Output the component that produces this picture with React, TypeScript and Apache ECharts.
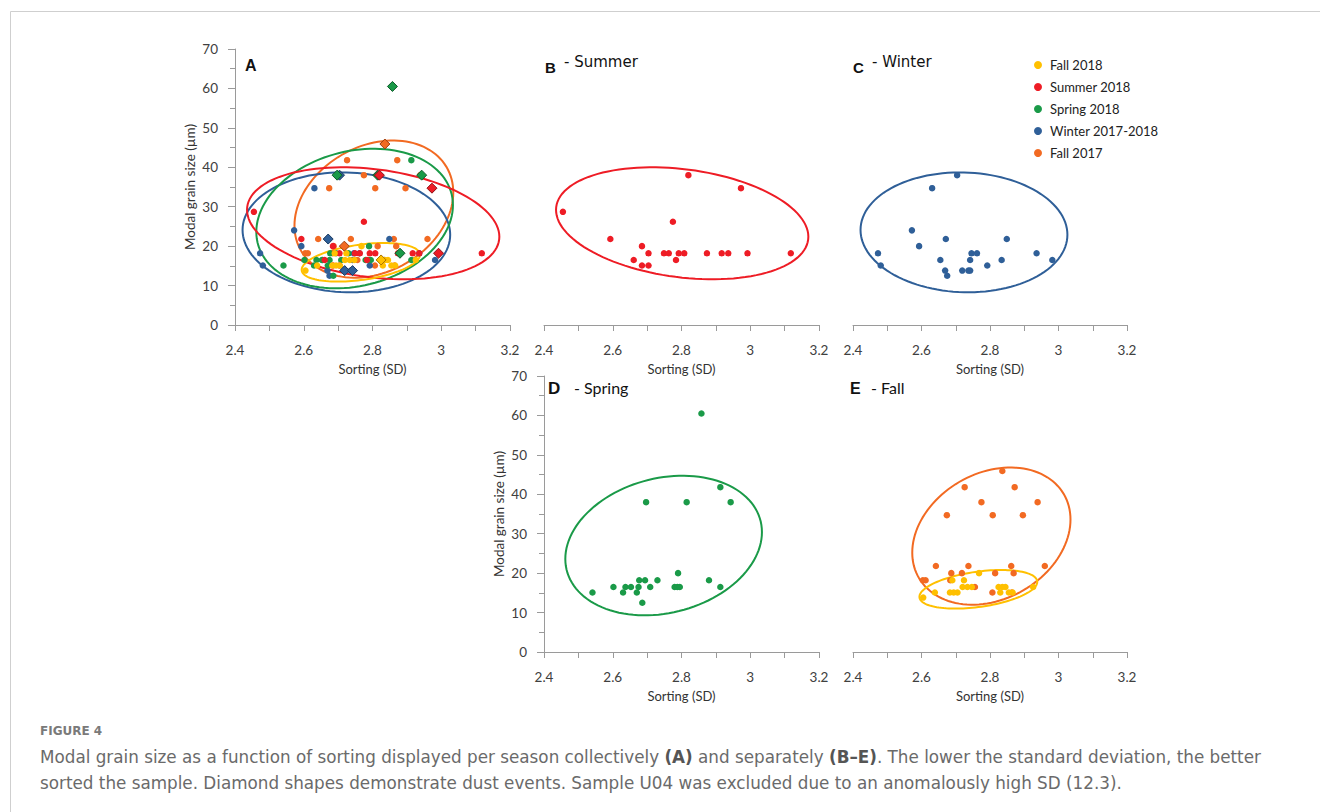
import React, { useEffect, useRef } from "react";
import * as echarts from "echarts";

// ---------- data ----------
const seasons = ["Fall 2018", "Summer 2018", "Spring 2018", "Winter 2017-2018", "Fall 2017"];
const seasonColors = ["#FFC000", "#EE1C25", "#1A9A48", "#2F5F98", "#F26A22"];
const dustBorders = ["#A87400", "#8E1015", "#0E5A2A", "#1B3A60", "#9E3E0C"];

// Fall 2018 (yellow)
const fall18X = [2.768, 2.690, 2.724, 2.720, 2.734, 2.747, 2.825, 2.836, 2.845, 2.926, 2.639, 2.683, 2.694, 2.705, 2.830, 2.855, 2.866, 2.605];
const fall18Y = [20.0, 18.2, 18.2, 16.5, 16.5, 16.5, 16.5, 16.5, 16.5, 16.5, 15.1, 15.1, 15.1, 15.1, 15.1, 15.1, 15.1, 13.8];
const fall18Dust = [0, 0, 0, 0, 0, 0, 1, 0, 0, 0, 0, 0, 0, 0, 0, 0, 0, 0];

// Summer 2018 (red)
const summerX = [2.455, 2.593, 2.685, 2.704, 2.661, 2.685, 2.704, 2.749, 2.763, 2.775, 2.784, 2.792, 2.808, 2.820, 2.874, 2.917, 2.936, 2.973, 2.992, 3.118];
const summerY = [28.7, 21.8, 20.0, 18.2, 16.5, 15.1, 15.1, 18.2, 18.2, 26.2, 16.5, 18.2, 18.2, 38.0, 18.2, 18.2, 18.2, 34.7, 18.2, 18.2];
const summerDust = [0, 0, 0, 0, 0, 0, 0, 0, 0, 0, 0, 0, 0, 1, 0, 0, 0, 1, 1, 0];

// Spring 2018 (green)
const springX = [2.541, 2.602, 2.630, 2.637, 2.653, 2.670, 2.675, 2.677, 2.686, 2.694, 2.697, 2.709, 2.730, 2.780, 2.788, 2.790, 2.795, 2.815, 2.858, 2.880, 2.913, 2.913, 2.943];
const springY = [15.1, 16.5, 15.1, 16.5, 16.5, 15.1, 16.5, 18.2, 12.5, 18.2, 38.0, 16.5, 18.2, 16.5, 16.5, 20.0, 16.5, 38.0, 60.5, 18.2, 41.8, 16.5, 38.0];
const springDust = [0, 0, 0, 0, 0, 0, 0, 0, 0, 0, 1, 0, 0, 0, 0, 0, 0, 1, 1, 1, 0, 0, 1];

// Winter 2017-2018 (blue)
const winterX = [2.473, 2.481, 2.572, 2.593, 2.631, 2.655, 2.671, 2.669, 2.675, 2.704, 2.719, 2.737, 2.742, 2.742, 2.746, 2.762, 2.792, 2.834, 2.849, 2.936, 2.982];
const winterY = [18.2, 15.1, 24.0, 20.0, 34.7, 16.5, 21.8, 13.8, 12.5, 38.0, 13.8, 13.8, 13.8, 16.5, 18.2, 18.2, 15.1, 16.5, 21.8, 18.2, 16.5];
const winterDust = [0, 0, 0, 0, 0, 0, 1, 0, 0, 1, 1, 0, 1, 0, 0, 0, 0, 0, 0, 0, 0];

// Fall 2017 (orange)
const fall17X = [2.836, 2.726, 2.872, 2.775, 2.939, 2.674, 2.808, 2.896, 2.642, 2.737, 2.862, 2.960, 2.687, 2.718, 2.815, 2.869, 2.604, 2.612, 2.684, 2.756, 2.807, 2.864];
const fall17Y = [45.9, 41.8, 41.8, 38.0, 38.0, 34.7, 34.7, 34.7, 21.8, 21.8, 21.8, 21.8, 20.0, 20.0, 20.0, 20.0, 18.2, 18.2, 18.2, 16.5, 15.1, 15.1];
const fall17Dust = [1, 0, 0, 0, 0, 0, 0, 0, 0, 0, 0, 0, 0, 1, 0, 0, 0, 0, 0, 0, 0, 0];

// Ellipses: [centre x, centre y, half width, half height, y at rightmost point]
const ellipseFall18 = [2.766, 15.9, 0.172, 4.9, 17.8];
const ellipseSummer = [2.802, 25.8, 0.367, 14.2, 22.4];
const ellipseSpring = [2.748, 27.0, 0.286, 17.7, 30.4];
const ellipseWinter = [2.724, 23.5, 0.302, 15.2, 22.9];
const ellipseFall17 = [2.804, 29.4, 0.231, 17.4, 33.6];

const xMin = 2.4, xMax = 3.2, xStep = 0.2;
const yMin = 0, yMax = 70, yStep = 10;

const xTitle = "Sorting (SD)";
const yTitle = "Modal grain size (µm)";

const captionHead = "FIGURE 4";
const captionLine1 = "{n|Modal grain size as a function of sorting displayed per season collectively }{b|(A)}{n| and separately }{b|(B–E)}{n|. The lower the standard deviation, the better}";
const captionLine2 = "sorted the sample. Diamond shapes demonstrate dust events. Sample U04 was excluded due to an anomalously high SD (12.3).";

// ---------- helpers ----------
const FONT = "Lato, 'Open Sans', sans-serif";
const CAP_FONT = "'DejaVu Sans', sans-serif";

const seasonData = [
  { x: fall18X, y: fall18Y, d: fall18Dust, e: ellipseFall18 },
  { x: summerX, y: summerY, d: summerDust, e: ellipseSummer },
  { x: springX, y: springY, d: springDust, e: ellipseSpring },
  { x: winterX, y: winterY, d: winterDust, e: ellipseWinter },
  { x: fall17X, y: fall17Y, d: fall17Dust, e: ellipseFall17 },
];

function points(si: number, filter: (dust: number) => boolean) {
  const s = seasonData[si];
  const out: number[][] = [];
  s.x.forEach((x, i) => {
    if (filter(s.d[i])) out.push([x, s.y[i]]);
  });
  return out;
}

function circles(si: number, g: number, all: boolean) {
  return {
    type: "scatter",
    name: seasons[si],
    xAxisIndex: g,
    yAxisIndex: g,
    symbol: "circle",
    symbolSize: 6.5,
    itemStyle: { color: seasonColors[si], opacity: 1 },
    data: points(si, (d) => all || d === 0),
    z: 3,
  };
}

function diamonds(si: number, g: number) {
  return {
    type: "scatter",
    name: seasons[si],
    xAxisIndex: g,
    yAxisIndex: g,
    symbol: "diamond",
    symbolSize: 10,
    itemStyle: { color: seasonColors[si], borderColor: dustBorders[si], borderWidth: 1, opacity: 1 },
    data: points(si, (d) => d === 1),
    z: 4,
  };
}

function ellipse(si: number, g: number) {
  const color = seasonColors[si];
  return {
    type: "custom",
    name: "ellipse-" + seasons[si],
    xAxisIndex: g,
    yAxisIndex: g,
    clip: false,
    z: 2,
    data: [seasonData[si].e],
    encode: { x: 0, y: 1 },
    renderItem: (params: any, api: any) => {
      const cx = api.value(0), cy = api.value(1), hw = api.value(2), hh = api.value(3), yr = api.value(4);
      const c = Math.max(-1, Math.min(1, (yr - cy) / hh));
      const phi = Math.acos(c);
      const pts: number[][] = [];
      const N = 120;
      for (let i = 0; i < N; i++) {
        const t = (i / N) * Math.PI * 2;
        pts.push(api.coord([cx + hw * Math.cos(t), cy + hh * Math.cos(t - phi)]));
      }
      return {
        type: "polygon",
        shape: { points: pts },
        style: { fill: "none", stroke: color, lineWidth: 2 },
      };
    },
  };
}

const grids = [
  { left: 235, top: 49, width: 275, height: 276 },
  { left: 544, top: 49, width: 275, height: 276 },
  { left: 853, top: 49, width: 274, height: 276 },
  { left: 544, top: 376, width: 275, height: 276 },
  { left: 853, top: 376, width: 274, height: 276 },
];
const showY = [true, false, false, true, false];

const axisGray = "#9a9a9a";

function makeX(g: number) {
  return {
    type: "value",
    gridIndex: g,
    min: xMin,
    max: xMax,
    interval: xStep,
    name: xTitle,
    nameLocation: "middle",
    nameGap: 37,
    nameTextStyle: { fontFamily: FONT, fontSize: 13, color: "#333" },
    axisLine: { show: true, lineStyle: { color: axisGray, width: 1 } },
    axisTick: { show: true, length: 6, lineStyle: { color: axisGray } },
    minorTick: { show: true, splitNumber: 2, length: 6, lineStyle: { color: axisGray } },
    splitLine: { show: false },
    axisLabel: {
      margin: 18,
      fontFamily: FONT,
      fontSize: 13.5,
      color: "#404040",
      formatter: (v: number) => String(parseFloat(v.toFixed(1))),
    },
  };
}

function makeY(g: number) {
  return {
    type: "value",
    gridIndex: g,
    min: yMin,
    max: yMax,
    interval: yStep,
    show: showY[g],
    name: yTitle,
    nameLocation: "middle",
    nameGap: 38,
    nameTextStyle: { fontFamily: FONT, fontSize: 13.5, color: "#333" },
    axisLine: { show: true, lineStyle: { color: axisGray, width: 1 } },
    axisTick: { show: true, length: 7, lineStyle: { color: axisGray } },
    minorTick: { show: true, splitNumber: 2, length: 5, lineStyle: { color: axisGray } },
    splitLine: { show: false },
    axisLabel: { margin: 17, fontFamily: FONT, fontSize: 13.5, color: "#404040" },
  };
}

function panelLabel(letter: string, rest: string, x: number, yLetter: number, yRest: number, restX: number, size: number, restFont: string) {
  const items: any[] = [
    {
      type: "text",
      x,
      y: yLetter,
      style: { text: letter, font: `bold ${size}px 'Liberation Sans', Arial, sans-serif`, fill: "#111", verticalAlign: "middle" },
    },
  ];
  if (rest) {
    items.push({
      type: "text",
      x: restX,
      y: yRest,
      style: { text: rest, font: restFont, fill: "#111", verticalAlign: "middle" },
    });
  }
  return items;
}

export default function App() {
  const ref = useRef<HTMLDivElement>(null);
  useEffect(() => {
    if (!ref.current) return;
    const chart = echarts.init(ref.current, undefined, { renderer: "svg" });

    const order = [4, 3, 2, 1, 0]; // draw Fall 2017 first, Fall 2018 on top
    const series: any[] = [];
    // Panel A
    order.forEach((si) => series.push(ellipse(si, 0)));
    order.forEach((si) => series.push(circles(si, 0, false)));
    order.forEach((si) => series.push(diamonds(si, 0)));
    // Panel B - Summer
    series.push(ellipse(1, 1), circles(1, 1, true));
    // Panel C - Winter
    series.push(ellipse(3, 2), circles(3, 2, true));
    // Panel D - Spring
    series.push(ellipse(2, 3), circles(2, 3, true));
    // Panel E - Fall
    series.push(ellipse(4, 4), ellipse(0, 4), circles(4, 4, true), circles(0, 4, true));

    const subWide = "15px 'DejaVu Sans', sans-serif";
    const subNarrow = `16px ${FONT}`;
    const capSize = 16.8;

    const graphic: any[] = [
      { type: "line", shape: { x1: 10.5, y1: 11.5, x2: 1320, y2: 11.5 }, style: { stroke: "#cfcfcf", lineWidth: 1 } },
      { type: "line", shape: { x1: 10.5, y1: 11.5, x2: 10.5, y2: 812 }, style: { stroke: "#cfcfcf", lineWidth: 1 } },
      ...panelLabel("A", "", 245, 65, 65, 0, 16, subNarrow),
      ...panelLabel("B", "- Summer", 545, 67, 61.5, 564, 15, subWide),
      ...panelLabel("C", "- Winter", 853, 67, 61.5, 872, 15, subWide),
      ...panelLabel("D", "- Spring", 548, 388, 387, 574, 17, subNarrow),
      ...panelLabel("E", "- Fall", 850, 388, 387, 871, 16, subNarrow),
      {
        type: "text",
        x: 40,
        y: 731,
        style: { text: captionHead, font: `bold 12px ${CAP_FONT}`, fill: "#7a7a7a", verticalAlign: "middle" },
      },
      {
        type: "text",
        x: 40,
        y: 757,
        style: {
          text: captionLine1,
          verticalAlign: "middle",
          rich: {
            n: { fontFamily: CAP_FONT, fontSize: capSize, fill: "#6a6a6a", fontWeight: "normal" },
            b: { fontFamily: CAP_FONT, fontSize: capSize, fill: "#555", fontWeight: "bold" },
          },
        },
      },
      {
        type: "text",
        x: 40,
        y: 783,
        style: { text: captionLine2, font: `${capSize}px ${CAP_FONT}`, fill: "#6a6a6a", verticalAlign: "middle" },
      },
    ];

    chart.setOption({
      animation: false,
      backgroundColor: "#ffffff",
      grid: grids,
      xAxis: grids.map((_, g) => makeX(g)),
      yAxis: grids.map((_, g) => makeY(g)),
      legend: {
        data: seasons.map((name) => ({ name, icon: "circle" })),
        orient: "vertical",
        left: 1029,
        top: 53,
        itemWidth: 8,
        itemHeight: 8,
        itemGap: 8,
        selectedMode: false,
        textStyle: { fontFamily: FONT, fontSize: 13, color: "#222", lineHeight: 14, padding: [0, 0, 0, 3] },
      },
      series,
      graphic,
    });
    return () => chart.dispose();
  }, []);
  return <div ref={ref} style={{ position: "absolute", left: 0, top: 0, width: 1320, height: 812 }} />;
}
